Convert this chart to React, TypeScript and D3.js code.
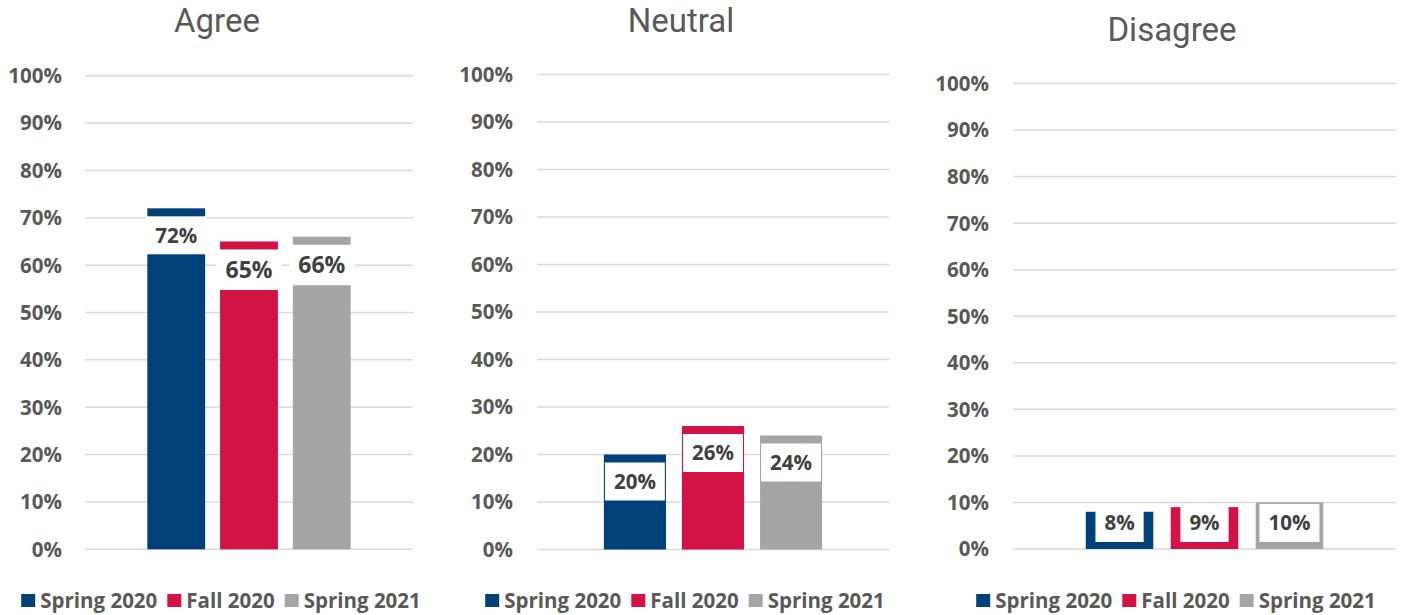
import React, { useEffect, useRef } from "react";
import * as d3 from "d3";

const categories = ["Agree", "Neutral", "Disagree"];
const seriesNames = ["Spring 2020", "Fall 2020", "Spring 2021"];
const spring2020 = [72, 20, 8];
const fall2020 = [65, 26, 9];
const spring2021 = [66, 24, 10];
const yTicks = [0, 10, 20, 30, 40, 50, 60, 70, 80, 90, 100];

const seriesValues = [spring2020, fall2020, spring2021];
const colors = ["#00417A", "#D31245", "#A5A5A5"];
// data-label font size per [category][series]
const labelFontSizes = [
  [20.5, 23, 23],
  [20.5, 20.5, 20.5],
  [20.5, 20.5, 20.5],
];

const panels = [
  { x0: 85, x1: 413, yTop: 75.7, yBottom: 549.3, titleX: 217, titleY: 32, labelRight: 62, legendCenter: 221 },
  { x0: 537, x1: 889, yTop: 74.5, yBottom: 549.5, titleX: 681, titleY: 32, labelRight: 513, legendCenter: 685 },
  { x0: 1013, x1: 1396, yTop: 83.5, yBottom: 549, titleX: 1172, titleY: 41, labelRight: 989, legendCenter: 1176 },
];

const FONT = "'Open Sans', 'DejaVu Sans', sans-serif";
const TITLE_FONT = "Roboto, 'Open Sans', sans-serif";

export default function App() {
  const ref = useRef<SVGSVGElement | null>(null);

  useEffect(() => {
    const svg = d3.select(ref.current);
    svg.selectAll("*").remove();
    svg.append("rect").attr("width", 1405).attr("height", 615).attr("fill", "#fff");

    categories.forEach((cat, ci) => {
      const p = panels[ci];
      const g = svg.append("g");
      const y = d3.scaleLinear().domain([0, 100]).range([p.yBottom, p.yTop]);
      const w = p.x1 - p.x0;
      const c = (p.x0 + p.x1) / 2;
      const x = d3
        .scaleBand<string>()
        .domain(seriesNames)
        .range([c - 0.31 * w, c + 0.31 * w])
        .paddingInner(0.205)
        .paddingOuter(0);

      // title
      g.append("text")
        .attr("x", p.titleX)
        .attr("y", p.titleY)
        .attr("text-anchor", "middle")
        .attr("font-family", TITLE_FONT)
        .attr("font-size", 33)
        .attr("fill", "#595959")
        .text(cat);

      // gridlines
      g.selectAll("line.grid")
        .data(yTicks)
        .join("line")
        .attr("x1", p.x0)
        .attr("x2", p.x1)
        .attr("y1", (d) => y(d))
        .attr("y2", (d) => y(d))
        .attr("stroke", "#D9D9D9")
        .attr("stroke-width", 1.5);

      // tick labels
      g.selectAll("text.tick")
        .data(yTicks)
        .join("text")
        .attr("x", p.labelRight)
        .attr("y", (d) => y(d))
        .attr("dy", "0.36em")
        .attr("text-anchor", "end")
        .attr("font-family", FONT)
        .attr("font-weight", 700)
        .attr("font-size", 20.5)
        .attr("fill", "#595959")
        .text((d) => d + "%");

      // bars
      seriesNames.forEach((s, si) => {
        const v = seriesValues[si][ci];
        const bx = x(s)!;
        const bw = x.bandwidth();
        const top = y(v);
        g.append("rect")
          .attr("x", bx)
          .attr("y", top)
          .attr("width", bw)
          .attr("height", y(0) - top)
          .attr("fill", colors[si]);

        const fs = labelFontSizes[ci][si];
        const lbl = g
          .append("text")
          .attr("x", bx + bw / 2)
          .attr("text-anchor", "middle")
          .attr("font-family", FONT)
          .attr("font-weight", 700)
          .attr("font-size", fs)
          .attr("fill", "#404040")
          .text(v + "%");
        const tl = (lbl.node() as SVGTextElement).getComputedTextLength();
        const boxW = tl + 18;
        const boxH = fs + 17.5;
        const boxTop = Math.min(top + 8, y(0) - 7 - boxH);
        g.insert("rect", () => lbl.node() as any)
          .attr("x", bx + bw / 2 - boxW / 2)
          .attr("y", boxTop)
          .attr("width", boxW)
          .attr("height", boxH)
          .attr("fill", "#fff");
        lbl.attr("y", boxTop + boxH / 2).attr("dy", "0.36em");
      });

      // legend
      const lg = svg.append("g");
      let cx = 0;
      seriesNames.forEach((s, si) => {
        const sq = lg.append("rect").attr("width", 14).attr("height", 13).attr("y", 594).attr("fill", colors[si]);
        const t = lg
          .append("text")
          .attr("y", 607.5)
          .attr("font-family", FONT)
          .attr("font-weight", 700)
          .attr("font-size", 20.5)
          .attr("fill", "#595959")
          .text(s);
        const tl = (t.node() as SVGTextElement).getComputedTextLength();
        sq.attr("x", cx);
        t.attr("x", cx + 19);
        cx += 19 + tl + 10;
      });
      const total = cx - 10;
      lg.attr("transform", `translate(${p.legendCenter - total / 2},0)`);
    });
  }, []);

  return (
    <svg
      ref={ref}
      width={1405}
      height={615}
      style={{ position: "absolute", left: 0, top: 0, display: "block" }}
    />
  );
}
